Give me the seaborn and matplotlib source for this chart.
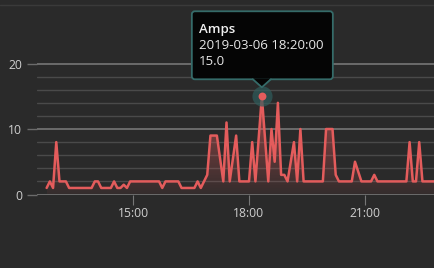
import matplotlib
matplotlib.use("Agg")
import numpy as np
import pandas as pd
import seaborn as sns
import matplotlib.pyplot as plt
import matplotlib.dates as mdates
import matplotlib.transforms as mtransforms
from matplotlib.patches import FancyBboxPatch, Polygon, PathPatch
from matplotlib.lines import Line2D

# ---------------- data ----------------
DATE = "2019-03-06"
times = ["12:45", "12:50", "12:55", "13:00", "13:05", "13:15", "13:20", "13:55",
         "14:00", "14:05", "14:10", "14:25", "14:30", "14:35", "14:40", "14:45",
         "14:50", "14:55", "15:40", "15:45", "15:50", "16:10", "16:15", "16:35",
         "16:40", "16:45", "16:50", "16:55", "17:00", "17:10", "17:20", "17:25",
         "17:30", "17:40", "17:45", "18:00", "18:05", "18:10", "18:20", "18:30",
         "18:35", "18:40", "18:45", "18:50", "18:55", "19:00", "19:10", "19:15",
         "19:20", "19:25", "19:55", "20:00", "20:10", "20:15", "20:20", "20:40",
         "20:45", "20:55", "21:10", "21:15", "21:20", "22:05", "22:10", "22:15",
         "22:20", "22:25", "22:30", "22:50"]
amps = [1, 2, 1, 8, 2, 2, 1, 1,
        2, 2, 1, 1, 2, 1, 1, 1.5,
        1, 2, 2, 1, 2, 2, 1, 1,
        2, 1, 2, 3, 9, 9, 2, 11,
        2, 9, 2, 2, 8, 2, 15, 2,
        10, 5, 14, 3, 3, 2, 8, 2,
        10, 2, 2, 10, 10, 3, 2, 2,
        5, 2, 2, 3, 2, 2, 8, 2,
        2, 8, 2, 2]
x_ticks = ["15:00", "18:00", "21:00"]
x_tick_labels = ["15:00", "18:00", "21:00"]
y_major = [0, 10, 20]
y_minor = [2, 4, 6, 8, 12, 14, 16, 18]
x_range = ["12:30", "22:48"]
series_name = "Amps"

# ---------------- style ----------------
BG = "#2a2a2a"
LINE = "#e45c5c"
GRID_MAJOR = "#6b6b6b"
GRID_MINOR = "#4a4a4a"
TXT = "#cfcfcf"

sns.set_theme(style="dark", rc={"axes.facecolor": BG, "figure.facecolor": BG})
plt.rcParams["font.family"] = ["Open Sans", "DejaVu Sans"]

df = pd.DataFrame({"time": pd.to_datetime([f"{DATE} {t}" for t in times]),
                   "amps": amps})

W, H = 434, 268
fig = plt.figure(figsize=(W / 100, H / 100), dpi=100, facecolor=BG)
ax = fig.add_axes([37 / W, (H - 194.5) / H, 1 - 37 / W, 137.5 / H])
ax.set_facecolor(BG)

sns.lineplot(data=df, x="time", y="amps", color=LINE, lw=1.8, ax=ax, zorder=4)

# gradient fill under the line
poly = ax.fill_between(df["time"], df["amps"], 0, facecolor="none", edgecolor="none")
path = poly.get_paths()[0]
clip = PathPatch(path, transform=ax.transData, facecolor="none", edgecolor="none")
ax.add_patch(clip)
ymax = float(np.max(df["amps"]))
n = 256
grad = np.zeros((n, 1, 4))
grad[:, 0, 0] = 0.89
grad[:, 0, 1] = 0.36
grad[:, 0, 2] = 0.36
grad[:, 0, 3] = np.linspace(0.06, 0.6, n)
xnum = mdates.date2num(df["time"])
im = ax.imshow(grad, extent=[xnum.min(), xnum.max(), 0, ymax], aspect="auto",
               origin="lower", zorder=3, interpolation="bilinear")
im.set_clip_path(clip)

# grid
for v in y_minor:
    ax.axhline(v, color=GRID_MINOR, lw=1.0, zorder=1)
for v in y_major:
    ax.axhline(v, color=GRID_MAJOR, lw=1.4, zorder=1)

ax.set_xlim(pd.Timestamp(f"{DATE} {x_range[0]}"), pd.Timestamp(f"{DATE} {x_range[1]}"))
ax.set_ylim(0, 21)
ax.set_yticks(y_major)
ax.set_yticklabels([str(v) for v in y_major])
ax.set_xticks([pd.Timestamp(f"{DATE} {t}") for t in x_ticks])
ax.set_xticklabels(x_tick_labels)
ax.set_xlabel("")
ax.set_ylabel("")
ax.grid(False)
for s in ax.spines.values():
    s.set_visible(False)
ax.tick_params(axis="y", which="major", length=7.2, width=1.0, color=GRID_MAJOR,
               direction="out", pad=3.6, labelsize=8.7, labelcolor=TXT, left=True)
ax.tick_params(axis="x", which="major", length=7.2, width=0.8, color="#777777",
               direction="out", pad=1.5, labelsize=8.7, labelcolor=TXT, bottom=True)

# peak hover marker
ip = int(np.argmax(df["amps"].values))
pt, pv = df["time"].iloc[ip], df["amps"].iloc[ip]
ax.scatter([pt], [pv], s=210, color="#2f5d5c", alpha=0.7, zorder=5, linewidths=0)
ax.scatter([pt], [pv], s=32, color=LINE, zorder=6, linewidths=0)

# top separator line
fig.add_artist(Line2D([0, 1], [1 - 5 / H] * 2, transform=fig.transFigure,
                      color="#3a3a3a", lw=1))

# tooltip
fig.canvas.draw()
px, py = ax.transData.transform((mdates.date2num(pt), pv))
ident = mtransforms.IdentityTransform()
EDGE = "#356b69"
box = FancyBboxPatch((px - 70, py + 17), 141, 68,
                     boxstyle="round,pad=0,rounding_size=3",
                     facecolor="#050505", edgecolor=EDGE, lw=1.3,
                     transform=ident, zorder=10)
fig.add_artist(box)
tri = Polygon([(px - 9, py + 18), (px, py + 9), (px + 9, py + 18)], closed=True,
              facecolor="#050505", edgecolor="none", transform=ident, zorder=11)
fig.add_artist(tri)
fig.add_artist(Line2D([px - 9, px, px + 9], [py + 17, py + 9, py + 17], color=EDGE,
                      lw=1.3, transform=ident, zorder=12))
fig.text(px - 63, py + 67, series_name, color="#f0f0f0", fontsize=9.5,
         fontweight="semibold", va="center", ha="left", transform=ident, zorder=13)
fig.text(px - 63, py + 51, pt.strftime("%Y-%m-%d %H:%M:%S"), color="#e8e8e8",
         fontsize=9.5, va="center", ha="left", transform=ident, zorder=13)
fig.text(px - 63, py + 35, f"{pv:.1f}", color="#e8e8e8", fontsize=9.5,
         va="center", ha="left", transform=ident, zorder=13)

fig.savefig("out.png", dpi=100, facecolor=BG)
